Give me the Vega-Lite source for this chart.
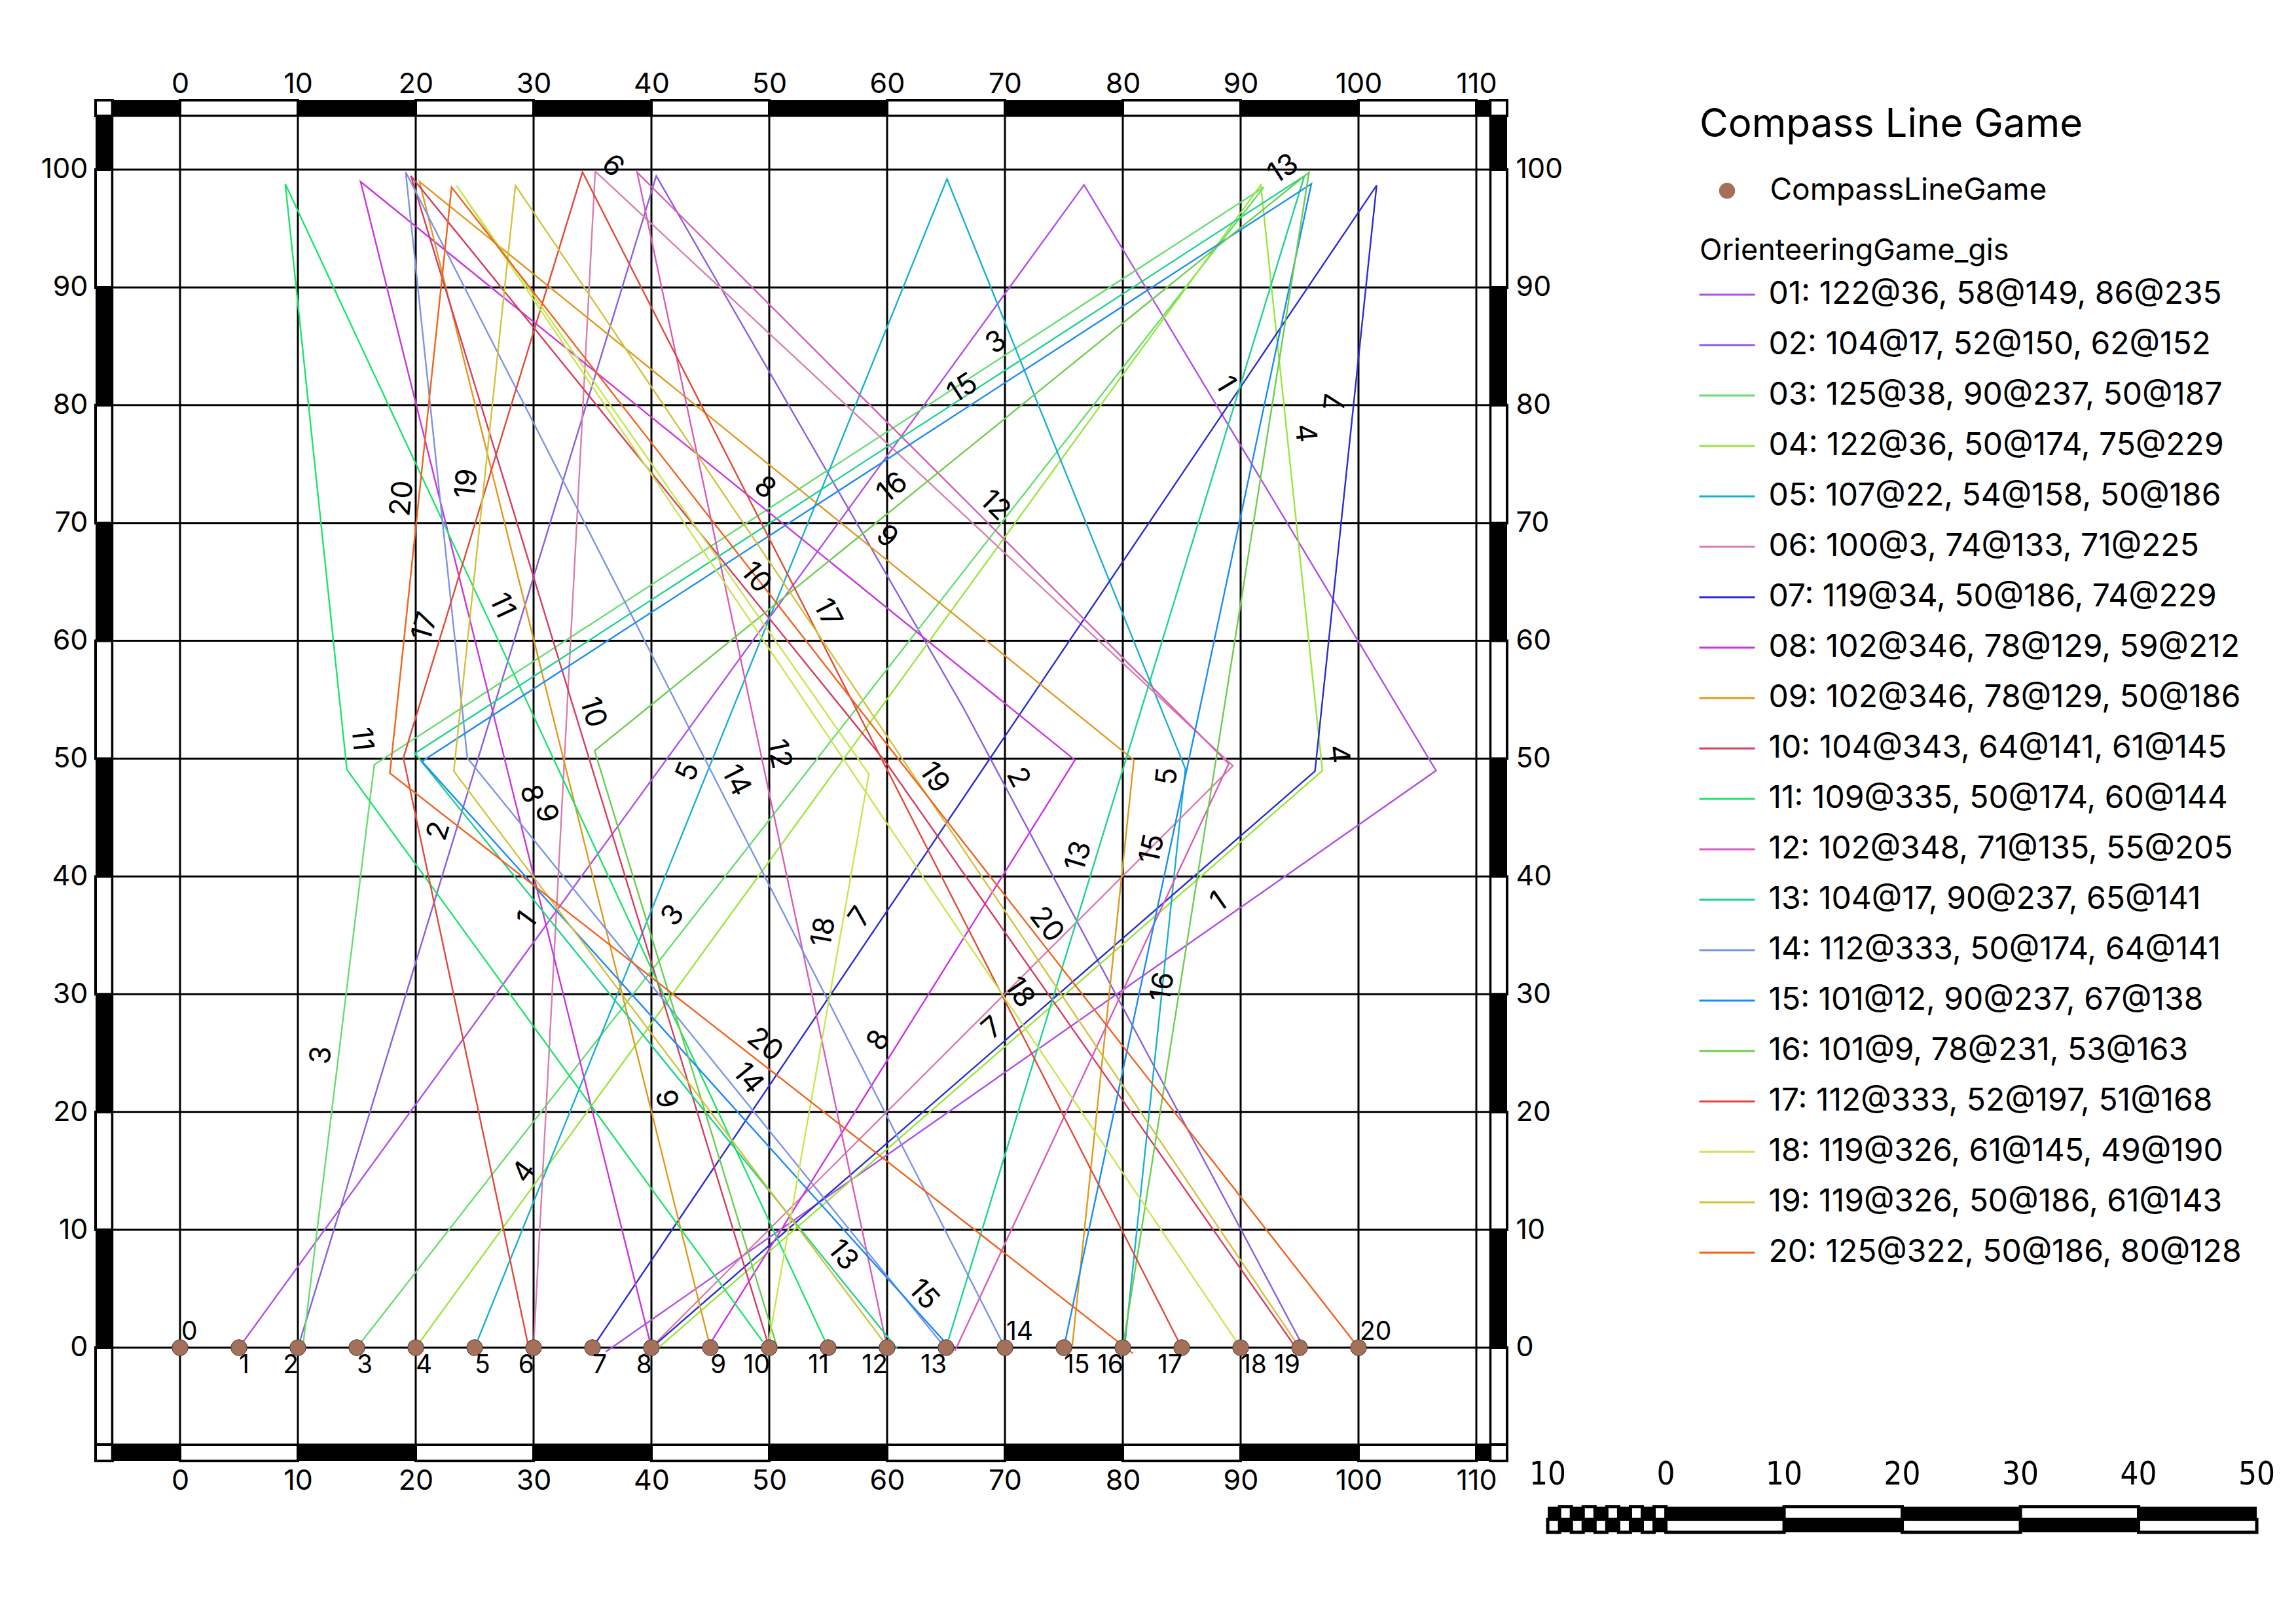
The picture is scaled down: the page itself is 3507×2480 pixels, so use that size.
{
  "$schema": "https://vega.github.io/schema/vega-lite/v6.json",
  "autosize": {"type": "none"},
  "padding": {"left": 146, "top": 153, "right": 1205, "bottom": 249},
  "width": 2156,
  "height": 2078,
  "background": "white",
  "config": {
    "view": {"stroke": null},
    "font": "Inter",
    "axis": {"ticks": false, "tickSize": 0, "domain": false, "grid": false, "labelFont": "Inter", "labelFontSize": 43, "labelColor": "black", "labelFlush": false, "labelOverlap": false, "title": null}
  },
  "datasets": {
    "hseg": [{"from": -7.1667, "to": -5.74}, {"from": 0, "to": 10}, {"from": 20, "to": 30}, {"from": 40, "to": 50}, {"from": 60, "to": 70}, {"from": 80, "to": 90}, {"from": 100, "to": 110}, {"from": 111.18, "to": 112.611}],
    "vseg": [{"from": -9.617, "to": -8.23}, {"from": -8.23, "to": 0}, {"from": 10, "to": 20}, {"from": 30, "to": 40}, {"from": 50, "to": 60}, {"from": 70, "to": 80}, {"from": 90, "to": 100}, {"from": 104.56, "to": 105.892}],
    "gx": [{"v": 0}, {"v": 10}, {"v": 20}, {"v": 30}, {"v": 40}, {"v": 50}, {"v": 60}, {"v": 70}, {"v": 80}, {"v": 90}, {"v": 100}, {"v": 110}],
    "gy": [{"v": 0}, {"v": 10}, {"v": 20}, {"v": 30}, {"v": 40}, {"v": 50}, {"v": 60}, {"v": 70}, {"v": 80}, {"v": 90}, {"v": 100}],
    "paths": [
      {"name": "01: 122@36, 58@149, 86@235", "seq": 0, "x": 5, "y": 0}, {"name": "01: 122@36, 58@149, 86@235", "seq": 1, "x": 76.71, "y": 98.70}, {"name": "01: 122@36, 58@149, 86@235", "seq": 2, "x": 106.58, "y": 48.98}, {"name": "01: 122@36, 58@149, 86@235", "seq": 3, "x": 36.13, "y": -0.35},
      {"name": "02: 104@17, 52@150, 62@152", "seq": 0, "x": 10, "y": 0}, {"name": "02: 104@17, 52@150, 62@152", "seq": 1, "x": 40.41, "y": 99.46}, {"name": "02: 104@17, 52@150, 62@152", "seq": 2, "x": 66.41, "y": 54.43}, {"name": "02: 104@17, 52@150, 62@152", "seq": 3, "x": 95.52, "y": -0.31},
      {"name": "03: 125@38, 90@237, 50@187", "seq": 0, "x": 15, "y": 0}, {"name": "03: 125@38, 90@237, 50@187", "seq": 1, "x": 91.96, "y": 98.50}, {"name": "03: 125@38, 90@237, 50@187", "seq": 2, "x": 16.48, "y": 49.48}, {"name": "03: 125@38, 90@237, 50@187", "seq": 3, "x": 10.39, "y": -0.15},
      {"name": "04: 122@36, 50@174, 75@229", "seq": 0, "x": 20, "y": 0}, {"name": "04: 122@36, 50@174, 75@229", "seq": 1, "x": 91.71, "y": 98.70}, {"name": "04: 122@36, 50@174, 75@229", "seq": 2, "x": 96.94, "y": 48.97}, {"name": "04: 122@36, 50@174, 75@229", "seq": 3, "x": 40.34, "y": -0.23},
      {"name": "05: 107@22, 54@158, 50@186", "seq": 0, "x": 25, "y": 0}, {"name": "05: 107@22, 54@158, 50@186", "seq": 1, "x": 65.08, "y": 99.21}, {"name": "05: 107@22, 54@158, 50@186", "seq": 2, "x": 85.31, "y": 49.14}, {"name": "05: 107@22, 54@158, 50@186", "seq": 3, "x": 80.08, "y": -0.59},
      {"name": "06: 100@3, 74@133, 71@225", "seq": 0, "x": 30, "y": 0}, {"name": "06: 100@3, 74@133, 71@225", "seq": 1, "x": 35.23, "y": 99.86}, {"name": "06: 100@3, 74@133, 71@225", "seq": 2, "x": 89.35, "y": 49.39}, {"name": "06: 100@3, 74@133, 71@225", "seq": 3, "x": 39.15, "y": -0.81},
      {"name": "07: 119@34, 50@186, 74@229", "seq": 0, "x": 35, "y": 0}, {"name": "07: 119@34, 50@186, 74@229", "seq": 1, "x": 101.54, "y": 98.66}, {"name": "07: 119@34, 50@186, 74@229", "seq": 2, "x": 96.31, "y": 48.93}, {"name": "07: 119@34, 50@186, 74@229", "seq": 3, "x": 40.46, "y": 0.38},
      {"name": "08: 102@346, 78@129, 59@212", "seq": 0, "x": 40, "y": 0}, {"name": "08: 102@346, 78@129, 59@212", "seq": 1, "x": 15.32, "y": 98.97}, {"name": "08: 102@346, 78@129, 59@212", "seq": 2, "x": 75.94, "y": 49.88}, {"name": "08: 102@346, 78@129, 59@212", "seq": 3, "x": 44.67, "y": -0.15},
      {"name": "09: 102@346, 78@129, 50@186", "seq": 0, "x": 45, "y": 0}, {"name": "09: 102@346, 78@129, 50@186", "seq": 1, "x": 20.32, "y": 98.97}, {"name": "09: 102@346, 78@129, 50@186", "seq": 2, "x": 80.94, "y": 49.88}, {"name": "09: 102@346, 78@129, 50@186", "seq": 3, "x": 75.71, "y": 0.15},
      {"name": "10: 104@343, 64@141, 61@145", "seq": 0, "x": 50, "y": 0}, {"name": "10: 104@343, 64@141, 61@145", "seq": 1, "x": 19.59, "y": 99.46}, {"name": "10: 104@343, 64@141, 61@145", "seq": 2, "x": 59.87, "y": 49.72}, {"name": "10: 104@343, 64@141, 61@145", "seq": 3, "x": 94.86, "y": -0.25},
      {"name": "11: 109@335, 50@174, 60@144", "seq": 0, "x": 55, "y": 0}, {"name": "11: 109@335, 50@174, 60@144", "seq": 1, "x": 8.93, "y": 98.79}, {"name": "11: 109@335, 50@174, 60@144", "seq": 2, "x": 14.16, "y": 49.06}, {"name": "11: 109@335, 50@174, 60@144", "seq": 3, "x": 49.43, "y": 0.52},
      {"name": "12: 102@348, 71@135, 55@205", "seq": 0, "x": 60, "y": 0}, {"name": "12: 102@348, 71@135, 55@205", "seq": 1, "x": 38.79, "y": 99.77}, {"name": "12: 102@348, 71@135, 55@205", "seq": 2, "x": 88.99, "y": 49.57}, {"name": "12: 102@348, 71@135, 55@205", "seq": 3, "x": 65.75, "y": -0.28},
      {"name": "13: 104@17, 90@237, 65@141", "seq": 0, "x": 65, "y": 0}, {"name": "13: 104@17, 90@237, 65@141", "seq": 1, "x": 95.41, "y": 99.46}, {"name": "13: 104@17, 90@237, 65@141", "seq": 2, "x": 19.93, "y": 50.44}, {"name": "13: 104@17, 90@237, 65@141", "seq": 3, "x": 60.84, "y": -0.07},
      {"name": "14: 112@333, 50@174, 64@141", "seq": 0, "x": 70, "y": 0}, {"name": "14: 112@333, 50@174, 64@141", "seq": 1, "x": 19.15, "y": 99.79}, {"name": "14: 112@333, 50@174, 64@141", "seq": 2, "x": 24.38, "y": 50.06}, {"name": "14: 112@333, 50@174, 64@141", "seq": 3, "x": 64.66, "y": 0.32},
      {"name": "15: 101@12, 90@237, 67@138", "seq": 0, "x": 75, "y": 0}, {"name": "15: 101@12, 90@237, 67@138", "seq": 1, "x": 96.00, "y": 98.79}, {"name": "15: 101@12, 90@237, 67@138", "seq": 2, "x": 20.52, "y": 49.77}, {"name": "15: 101@12, 90@237, 67@138", "seq": 3, "x": 65.35, "y": -0.02},
      {"name": "16: 101@9, 78@231, 53@163", "seq": 0, "x": 80, "y": 0}, {"name": "16: 101@9, 78@231, 53@163", "seq": 1, "x": 95.80, "y": 99.76}, {"name": "16: 101@9, 78@231, 53@163", "seq": 2, "x": 35.18, "y": 50.67}, {"name": "16: 101@9, 78@231, 53@163", "seq": 3, "x": 50.68, "y": -0.01},
      {"name": "17: 112@333, 52@197, 51@168", "seq": 0, "x": 85, "y": 0}, {"name": "17: 112@333, 52@197, 51@168", "seq": 1, "x": 34.15, "y": 99.79}, {"name": "17: 112@333, 52@197, 51@168", "seq": 2, "x": 18.95, "y": 50.06}, {"name": "17: 112@333, 52@197, 51@168", "seq": 3, "x": 29.55, "y": 0.17},
      {"name": "18: 119@326, 61@145, 49@190", "seq": 0, "x": 90, "y": 0}, {"name": "18: 119@326, 61@145, 49@190", "seq": 1, "x": 23.46, "y": 98.66}, {"name": "18: 119@326, 61@145, 49@190", "seq": 2, "x": 58.45, "y": 48.69}, {"name": "18: 119@326, 61@145, 49@190", "seq": 3, "x": 49.94, "y": 0.43},
      {"name": "19: 119@326, 50@186, 61@143", "seq": 0, "x": 95, "y": 0}, {"name": "19: 119@326, 50@186, 61@143", "seq": 1, "x": 28.46, "y": 98.66}, {"name": "19: 119@326, 50@186, 61@143", "seq": 2, "x": 23.23, "y": 48.93}, {"name": "19: 119@326, 50@186, 61@143", "seq": 3, "x": 59.94, "y": 0.21},
      {"name": "20: 125@322, 50@186, 80@128", "seq": 0, "x": 100, "y": 0}, {"name": "20: 125@322, 50@186, 80@128", "seq": 1, "x": 23.04, "y": 98.50}, {"name": "20: 125@322, 50@186, 80@128", "seq": 2, "x": 17.81, "y": 48.77}, {"name": "20: 125@322, 50@186, 80@128", "seq": 3, "x": 80.85, "y": -0.48}
    ],
    "labels": [
      {"t": "6", "x": 36.68, "y": 100.27, "bearing": 133},
      {"t": "3", "x": 69.27, "y": 85.30, "bearing": 237},
      {"t": "15", "x": 66.42, "y": 81.40, "bearing": 237},
      {"t": "8", "x": 49.61, "y": 72.97, "bearing": 129},
      {"t": "16", "x": 60.47, "y": 72.97, "bearing": 231},
      {"t": "12", "x": 69.13, "y": 71.47, "bearing": 135},
      {"t": "9", "x": 59.96, "y": 68.82, "bearing": 129},
      {"t": "13", "x": 93.63, "y": 100.02, "bearing": 237},
      {"t": "1", "x": 88.66, "y": 81.78, "bearing": 149},
      {"t": "7", "x": 98.10, "y": 80.27, "bearing": 186},
      {"t": "4", "x": 95.42, "y": 77.63, "bearing": 174},
      {"t": "20", "x": 18.88, "y": 72.09, "bearing": 186},
      {"t": "19", "x": 24.37, "y": 73.35, "bearing": 186},
      {"t": "11", "x": 27.29, "y": 62.96, "bearing": 335},
      {"t": "17", "x": 20.82, "y": 61.20, "bearing": 197},
      {"t": "11", "x": 15.39, "y": 51.64, "bearing": 174},
      {"t": "8", "x": 29.74, "y": 46.99, "bearing": 346},
      {"t": "9", "x": 31.04, "y": 45.35, "bearing": 346},
      {"t": "2", "x": 21.98, "y": 43.84, "bearing": 17},
      {"t": "1", "x": 29.48, "y": 36.29, "bearing": 36},
      {"t": "10", "x": 48.83, "y": 65.35, "bearing": 141},
      {"t": "17", "x": 54.91, "y": 62.33, "bearing": 333},
      {"t": "10", "x": 34.99, "y": 53.91, "bearing": 343},
      {"t": "12", "x": 50.77, "y": 50.38, "bearing": 348},
      {"t": "5", "x": 43.14, "y": 48.87, "bearing": 22},
      {"t": "14", "x": 47.15, "y": 48.12, "bearing": 333},
      {"t": "19", "x": 63.96, "y": 48.37, "bearing": 326},
      {"t": "2", "x": 71.08, "y": 48.37, "bearing": 152},
      {"t": "3", "x": 41.85, "y": 36.67, "bearing": 38},
      {"t": "18", "x": 54.65, "y": 35.29, "bearing": 190},
      {"t": "7", "x": 57.76, "y": 36.54, "bearing": 34},
      {"t": "18", "x": 71.20, "y": 30.13, "bearing": 326},
      {"t": "20", "x": 73.50, "y": 35.90, "bearing": 322},
      {"t": "4", "x": 98.23, "y": 50.38, "bearing": 174},
      {"t": "5", "x": 83.82, "y": 48.50, "bearing": 186},
      {"t": "13", "x": 76.29, "y": 41.71, "bearing": 17},
      {"t": "15", "x": 82.54, "y": 42.33, "bearing": 12},
      {"t": "1", "x": 88.15, "y": 37.81, "bearing": 235},
      {"t": "16", "x": 83.43, "y": 30.63, "bearing": 9},
      {"t": "3", "x": 12.03, "y": 24.82, "bearing": 187},
      {"t": "4", "x": 29.23, "y": 14.89, "bearing": 36},
      {"t": "20", "x": 49.61, "y": 25.68, "bearing": 128},
      {"t": "14", "x": 48.18, "y": 22.83, "bearing": 141},
      {"t": "9", "x": 41.20, "y": 21.09, "bearing": 346},
      {"t": "8", "x": 59.31, "y": 26.06, "bearing": 212},
      {"t": "13", "x": 56.21, "y": 7.83, "bearing": 141},
      {"t": "15", "x": 63.06, "y": 4.48, "bearing": 138},
      {"t": "7", "x": 68.97, "y": 27.11, "bearing": 229}
    ],
    "pts": [
      {"id": 0, "x": 0, "y": 0, "layer": "CompassLineGame"}, {"id": 1, "x": 5, "y": 0, "layer": "CompassLineGame"}, {"id": 2, "x": 10, "y": 0, "layer": "CompassLineGame"}, {"id": 3, "x": 15, "y": 0, "layer": "CompassLineGame"}, {"id": 4, "x": 20, "y": 0, "layer": "CompassLineGame"}, {"id": 5, "x": 25, "y": 0, "layer": "CompassLineGame"}, {"id": 6, "x": 30, "y": 0, "layer": "CompassLineGame"}, {"id": 7, "x": 35, "y": 0, "layer": "CompassLineGame"}, {"id": 8, "x": 40, "y": 0, "layer": "CompassLineGame"}, {"id": 9, "x": 45, "y": 0, "layer": "CompassLineGame"}, {"id": 10, "x": 50, "y": 0, "layer": "CompassLineGame"},
      {"id": 11, "x": 55, "y": 0, "layer": "CompassLineGame"}, {"id": 12, "x": 60, "y": 0, "layer": "CompassLineGame"}, {"id": 13, "x": 65, "y": 0, "layer": "CompassLineGame"}, {"id": 14, "x": 70, "y": 0, "layer": "CompassLineGame"}, {"id": 15, "x": 75, "y": 0, "layer": "CompassLineGame"}, {"id": 16, "x": 80, "y": 0, "layer": "CompassLineGame"}, {"id": 17, "x": 85, "y": 0, "layer": "CompassLineGame"}, {"id": 18, "x": 90, "y": 0, "layer": "CompassLineGame"}, {"id": 19, "x": 95, "y": 0, "layer": "CompassLineGame"}, {"id": 20, "x": 100, "y": 0, "layer": "CompassLineGame"}
    ],
    "sbw": [
      {"from": -9, "to": -8, "lo": 1, "hi": 2}, {"from": -7, "to": -6, "lo": 1, "hi": 2}, {"from": -5, "to": -4, "lo": 1, "hi": 2}, {"from": -3, "to": -2, "lo": 1, "hi": 2}, {"from": -1, "to": 0, "lo": 1, "hi": 2}, {"from": 10, "to": 20, "lo": 1, "hi": 2}, {"from": 30, "to": 40, "lo": 1, "hi": 2},
      {"from": -10, "to": -9, "lo": 0, "hi": 1}, {"from": -8, "to": -7, "lo": 0, "hi": 1}, {"from": -6, "to": -5, "lo": 0, "hi": 1}, {"from": -4, "to": -3, "lo": 0, "hi": 1}, {"from": -2, "to": -1, "lo": 0, "hi": 1}, {"from": 0, "to": 10, "lo": 0, "hi": 1}, {"from": 20, "to": 30, "lo": 0, "hi": 1}, {"from": 40, "to": 50, "lo": 0, "hi": 1}
    ],
    "sbl": [{"v": -10, "label": "10"}, {"v": 0, "label": "0"}, {"v": 10, "label": "10"}, {"v": 20, "label": "20"}, {"v": 30, "label": "30"}, {"v": 40, "label": "40"}, {"v": 50, "label": "50"}]
  },
  "layer": [
    {
      "layer": [
        {
          "data": {"values": [{}]},
          "mark": {"type": "rect", "fill": "black"},
          "encoding": {
            "x": {"datum": -7.1667, "type": "quantitative", "scale": {"domain": [-7.1667, 112.611], "nice": false, "zero": false}, "axis": null},
            "x2": {"datum": 112.611},
            "y": {"datum": -9.617, "type": "quantitative", "scale": {"domain": [-9.617, 105.892], "nice": false, "zero": false}, "axis": null},
            "y2": {"datum": 105.892}
          }
        },
        {
          "data": {"name": "hseg"},
          "mark": {"type": "rect", "fill": "white", "stroke": "black", "strokeWidth": 4},
          "encoding": {
            "x": {"field": "from", "type": "quantitative", "scale": {"domain": [-7.1667, 112.611], "nice": false, "zero": false}, "axis": null},
            "x2": {"field": "to"},
            "y": {"datum": 104.56, "type": "quantitative", "scale": {"domain": [-9.617, 105.892], "nice": false, "zero": false}, "axis": null},
            "y2": {"datum": 105.892}
          }
        },
        {
          "data": {"name": "hseg"},
          "mark": {"type": "rect", "fill": "white", "stroke": "black", "strokeWidth": 4},
          "encoding": {
            "x": {"field": "from", "type": "quantitative", "scale": {"domain": [-7.1667, 112.611], "nice": false, "zero": false}, "axis": null},
            "x2": {"field": "to"},
            "y": {"datum": -9.617, "type": "quantitative", "scale": {"domain": [-9.617, 105.892], "nice": false, "zero": false}, "axis": null},
            "y2": {"datum": -8.23}
          }
        },
        {
          "data": {"name": "vseg"},
          "mark": {"type": "rect", "fill": "white", "stroke": "black", "strokeWidth": 4},
          "encoding": {
            "x": {"datum": -7.1667, "type": "quantitative", "scale": {"domain": [-7.1667, 112.611], "nice": false, "zero": false}, "axis": null},
            "x2": {"datum": -5.74},
            "y": {"field": "from", "type": "quantitative", "scale": {"domain": [-9.617, 105.892], "nice": false, "zero": false}, "axis": null},
            "y2": {"field": "to"}
          }
        },
        {
          "data": {"name": "vseg"},
          "mark": {"type": "rect", "fill": "white", "stroke": "black", "strokeWidth": 4},
          "encoding": {
            "x": {"datum": 111.18, "type": "quantitative", "scale": {"domain": [-7.1667, 112.611], "nice": false, "zero": false}, "axis": null},
            "x2": {"datum": 112.611},
            "y": {"field": "from", "type": "quantitative", "scale": {"domain": [-9.617, 105.892], "nice": false, "zero": false}, "axis": null},
            "y2": {"field": "to"}
          }
        },
        {
          "data": {"values": [{}]},
          "mark": {"type": "rect", "fill": "white", "stroke": "black", "strokeWidth": 3},
          "encoding": {
            "x": {"datum": -5.74, "type": "quantitative", "scale": {"domain": [-7.1667, 112.611], "nice": false, "zero": false}, "axis": null},
            "x2": {"datum": 111.18},
            "y": {"datum": -8.23, "type": "quantitative", "scale": {"domain": [-9.617, 105.892], "nice": false, "zero": false}, "axis": null},
            "y2": {"datum": 104.56}
          }
        },
        {
          "data": {"name": "gx"},
          "mark": {"type": "rule", "color": "black", "strokeWidth": 3},
          "encoding": {
            "x": {"field": "v", "type": "quantitative", "scale": {"domain": [-7.1667, 112.611], "nice": false, "zero": false}, "axis": {"orient": "bottom", "values": [0, 10, 20, 30, 40, 50, 60, 70, 80, 90, 100, 110], "labelPadding": 9}},
            "y": {"datum": -8.23, "type": "quantitative", "scale": {"domain": [-9.617, 105.892], "nice": false, "zero": false}, "axis": {"orient": "left", "values": [0, 10, 20, 30, 40, 50, 60, 70, 80, 90, 100], "labelPadding": 12}},
            "y2": {"datum": 104.56}
          }
        },
        {
          "data": {"name": "gy"},
          "mark": {"type": "rule", "color": "black", "strokeWidth": 3},
          "encoding": {
            "y": {"field": "v", "type": "quantitative", "scale": {"domain": [-9.617, 105.892], "nice": false, "zero": false}, "axis": {"orient": "right", "values": [0, 10, 20, 30, 40, 50, 60, 70, 80, 90, 100], "labelPadding": 13}},
            "x": {"datum": -5.74, "type": "quantitative", "scale": {"domain": [-7.1667, 112.611], "nice": false, "zero": false}, "axis": {"orient": "top", "values": [0, 10, 20, 30, 40, 50, 60, 70, 80, 90, 100, 110], "labelPadding": 3}},
            "x2": {"datum": 111.18}
          }
        },
        {
          "data": {"name": "paths"},
          "mark": {"type": "line", "strokeWidth": 2.4},
          "encoding": {
            "x": {"field": "x", "type": "quantitative", "scale": {"domain": [-7.1667, 112.611], "nice": false, "zero": false}, "axis": null},
            "y": {"field": "y", "type": "quantitative", "scale": {"domain": [-9.617, 105.892], "nice": false, "zero": false}, "axis": null},
            "order": {"field": "seq", "type": "quantitative"},
            "color": {
              "field": "name", "type": "nominal",
              "scale": {
                "domain": ["01: 122@36, 58@149, 86@235", "02: 104@17, 52@150, 62@152", "03: 125@38, 90@237, 50@187", "04: 122@36, 50@174, 75@229", "05: 107@22, 54@158, 50@186", "06: 100@3, 74@133, 71@225", "07: 119@34, 50@186, 74@229", "08: 102@346, 78@129, 59@212", "09: 102@346, 78@129, 50@186", "10: 104@343, 64@141, 61@145", "11: 109@335, 50@174, 60@144", "12: 102@348, 71@135, 55@205", "13: 104@17, 90@237, 65@141", "14: 112@333, 50@174, 64@141", "15: 101@12, 90@237, 67@138", "16: 101@9, 78@231, 53@163", "17: 112@333, 52@197, 51@168", "18: 119@326, 61@145, 49@190", "19: 119@326, 50@186, 61@143", "20: 125@322, 50@186, 80@128"],
                "range": ["#b04fe6", "#8a5fe0", "#66dd6e", "#99e63e", "#1ab0d0", "#d97fae", "#2b2bd4", "#cc33e0", "#e0981f", "#d63c5e", "#1de46a", "#d85cb8", "#1ed48e", "#7c94e8", "#1a8cf2", "#6cce4e", "#e04a38", "#c8e650", "#d2c23c", "#f2621c"]
              },
              "legend": {
                "orient": "none", "legendX": 2450, "legendY": 208, "padding": 0,
                "title": "OrienteeringGame_gis", "titleFont": "Inter", "titleFontSize": 45, "titleFontWeight": "normal", "titleColor": "black", "titlePadding": 0, "titleLimit": 3000,
                "labelFont": "Inter", "labelFontSize": 48, "labelColor": "black", "labelLimit": 3000, "labelOffset": 19.5,
                "symbolType": "stroke", "symbolSize": 7225, "symbolStrokeWidth": 3, "symbolOffset": -2, "rowPadding": 9
              }
            }
          }
        },
        {
          "data": {"name": "labels"},
          "mark": {"type": "text", "font": "Inter", "fontSize": 44, "align": "center", "baseline": "middle", "color": "black"},
          "encoding": {
            "x": {"field": "x", "type": "quantitative", "scale": {"domain": [-7.1667, 112.611], "nice": false, "zero": false}, "axis": null},
            "y": {"field": "y", "type": "quantitative", "scale": {"domain": [-9.617, 105.892], "nice": false, "zero": false}, "axis": null},
            "text": {"field": "t", "type": "nominal"},
            "angle": {"field": "bearing", "type": "quantitative", "scale": {"domain": [0, 180, 180, 360], "range": [-90, 90, -90, 90], "zero": false, "nice": false}, "legend": null}
          }
        },
        {
          "data": {"name": "pts"},
          "mark": {"type": "point", "filled": true, "size": 600, "fill": "#a4705a", "stroke": "#3a3a3a", "strokeWidth": 1, "opacity": 1},
          "encoding": {
            "x": {"field": "x", "type": "quantitative", "scale": {"domain": [-7.1667, 112.611], "nice": false, "zero": false}, "axis": null},
            "y": {"field": "y", "type": "quantitative", "scale": {"domain": [-9.617, 105.892], "nice": false, "zero": false}, "axis": null},
            "shape": {
              "field": "layer", "type": "nominal", "scale": {"range": ["circle"]},
              "legend": {
                "orient": "none", "legendX": 2450, "legendY": 9.3, "padding": 0,
                "title": "Compass Line Game", "titleFont": "Inter", "titleFontSize": 60, "titleFontWeight": "normal", "titleColor": "black", "titlePadding": 46, "titleLimit": 3000,
                "labelFont": "Inter", "labelFontSize": 46, "labelColor": "black", "labelLimit": 3000, "labelOffset": 42.5,
                "symbolSize": 600, "symbolFillColor": "#a4705a", "symbolStrokeColor": "#3a3a3a", "symbolStrokeWidth": 1, "symbolOffset": 19
              }
            }
          }
        },
        {
          "data": {"name": "pts"},
          "transform": [{"filter": {"field": "id", "oneOf": [0, 14, 20]}}],
          "mark": {"type": "text", "font": "Inter", "fontSize": 39, "align": "left", "baseline": "middle", "dx": 2, "dy": -24, "color": "black"},
          "encoding": {
            "x": {"field": "x", "type": "quantitative", "scale": {"domain": [-7.1667, 112.611], "nice": false, "zero": false}, "axis": null},
            "y": {"field": "y", "type": "quantitative", "scale": {"domain": [-9.617, 105.892], "nice": false, "zero": false}, "axis": null},
            "text": {"field": "id", "type": "nominal"}
          }
        },
        {
          "data": {"name": "pts"},
          "transform": [{"filter": {"field": "id", "oneOf": [1, 3, 4, 5, 7, 9, 15, 18]}}],
          "mark": {"type": "text", "font": "Inter", "fontSize": 39, "align": "left", "baseline": "middle", "dx": 0, "dy": 27, "color": "black"},
          "encoding": {
            "x": {"field": "x", "type": "quantitative", "scale": {"domain": [-7.1667, 112.611], "nice": false, "zero": false}, "axis": null},
            "y": {"field": "y", "type": "quantitative", "scale": {"domain": [-9.617, 105.892], "nice": false, "zero": false}, "axis": null},
            "text": {"field": "id", "type": "nominal"}
          }
        },
        {
          "data": {"name": "pts"},
          "transform": [{"filter": {"field": "id", "oneOf": [2, 6, 8, 10, 11, 12, 13, 16, 17, 19]}}],
          "mark": {"type": "text", "font": "Inter", "fontSize": 39, "align": "right", "baseline": "middle", "dx": 1, "dy": 27, "color": "black"},
          "encoding": {
            "x": {"field": "x", "type": "quantitative", "scale": {"domain": [-7.1667, 112.611], "nice": false, "zero": false}, "axis": null},
            "y": {"field": "y", "type": "quantitative", "scale": {"domain": [-9.617, 105.892], "nice": false, "zero": false}, "axis": null},
            "text": {"field": "id", "type": "nominal"}
          }
        }
      ]
    },
    {
      "layer": [
        {
          "data": {"values": [{}]},
          "mark": {"type": "rect", "fill": "black"},
          "encoding": {
            "x": {"datum": -10, "type": "quantitative", "scale": {"domain": [-132.89, -13.44], "nice": false, "zero": false}, "axis": null},
            "x2": {"datum": 50},
            "y": {"datum": 0, "type": "quantitative", "scale": {"domain": [5.547, 111.3], "nice": false, "zero": false}, "axis": null},
            "y2": {"datum": 2}
          }
        },
        {
          "data": {"name": "sbw"},
          "mark": {"type": "rect", "fill": "white", "stroke": "black", "strokeWidth": 5},
          "encoding": {
            "x": {"field": "from", "type": "quantitative", "scale": {"domain": [-132.89, -13.44], "nice": false, "zero": false}, "axis": null},
            "x2": {"field": "to"},
            "y": {"field": "lo", "type": "quantitative", "scale": {"domain": [5.547, 111.3], "nice": false, "zero": false}, "axis": null},
            "y2": {"field": "hi"}
          }
        },
        {
          "data": {"name": "sbl"},
          "mark": {"type": "text", "font": "Liberation Sans Narrow, DejaVu Sans Condensed, Liberation Sans, DejaVu Sans, sans-serif", "fontSize": 49, "align": "center", "baseline": "middle", "dy": -49, "color": "black"},
          "encoding": {
            "x": {"field": "v", "type": "quantitative", "scale": {"domain": [-132.89, -13.44], "nice": false, "zero": false}, "axis": null},
            "y": {"datum": 2, "type": "quantitative", "scale": {"domain": [5.547, 111.3], "nice": false, "zero": false}, "axis": null},
            "text": {"field": "label", "type": "nominal"}
          }
        }
      ]
    }
  ],
  "resolve": {"scale": {"x": "independent", "y": "independent"}}
}
